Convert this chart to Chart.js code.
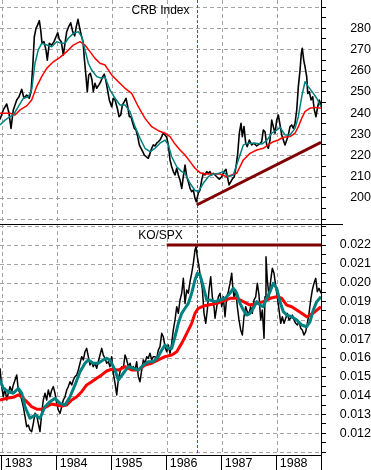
<!DOCTYPE html>
<html>
<head>
<meta charset="utf-8">
<script src="https://cdn.jsdelivr.net/npm/chart.js@4.4.0/dist/chart.umd.min.js"></script>
<style>
  html, body { margin: 0; padding: 0; background: #fff; }
  canvas { display: block; }
</style>
</head>
<body>
<canvas id="chart" width="371" height="470"></canvas>
<script>
const years = [1983, 1984, 1985, 1986, 1987, 1988];
const xRange = [1982.969, 1988.805];
const markYear = 1986.545;

// CRB Index: weekly close, short average, long average
const crbClose = [[1982.969,237],[1983.029,241.5],[1983.091,244.3],[1983.133,239.9],[1983.169,232.8],[1983.211,241.5],[1983.273,246.2],[1983.314,247.7],[1983.364,251.2],[1983.405,247],[1983.454,248.5],[1983.502,247],[1983.533,250.1],[1983.564,261.9],[1983.593,276],[1983.624,280],[1983.654,281.6],[1983.684,283.6],[1983.709,279.2],[1983.733,272.9],[1983.769,273.7],[1983.805,269.8],[1983.829,265],[1983.865,272.9],[1983.909,272.1],[1983.951,273.7],[1983.987,276],[1984.018,277.9],[1984.047,274.8],[1984.084,273.7],[1984.120,267.4],[1984.151,272.9],[1984.182,278.4],[1984.218,280.8],[1984.254,282.6],[1984.291,278.4],[1984.327,276.4],[1984.356,280.8],[1984.387,284.2],[1984.418,280],[1984.447,276.8],[1984.478,273.7],[1984.502,265.8],[1984.527,258.8],[1984.556,250.1],[1984.582,258],[1984.611,258.8],[1984.642,255.6],[1984.665,250.1],[1984.696,254.1],[1984.727,251.7],[1984.764,253.2],[1984.800,254.8],[1984.836,257.2],[1984.865,258.4],[1984.896,255],[1984.927,250.5],[1984.956,246.2],[1984.999,243],[1985.029,247],[1985.060,246.2],[1985.102,242.3],[1985.133,238.3],[1985.164,239.1],[1985.193,243.8],[1985.229,245.4],[1985.260,247],[1985.291,243],[1985.320,238.3],[1985.351,238.3],[1985.382,235.2],[1985.411,232.8],[1985.442,232],[1985.473,228.9],[1985.502,225],[1985.533,223.4],[1985.564,221.8],[1985.593,220.2],[1985.629,219.4],[1985.665,218.7],[1985.696,221],[1985.727,223.4],[1985.756,225],[1985.787,224.5],[1985.818,225.8],[1985.847,226.5],[1985.878,227.3],[1985.909,228.9],[1985.938,230.5],[1985.969,229.7],[1986.000,228.6],[1986.029,225],[1986.060,217.9],[1986.091,214.7],[1986.120,212.4],[1986.151,210.8],[1986.182,214],[1986.211,210.8],[1986.242,208.4],[1986.273,204.5],[1986.302,210],[1986.333,215.5],[1986.364,210],[1986.393,207.6],[1986.424,204.5],[1986.454,202.9],[1986.484,203.7],[1986.514,199.8],[1986.538,198.2],[1986.574,202.2],[1986.605,203.7],[1986.636,208.4],[1986.665,211.6],[1986.696,210.8],[1986.727,212.4],[1986.756,211.6],[1986.787,212.4],[1986.818,210.8],[1986.847,211.6],[1986.909,210],[1986.956,208.8],[1987.000,210],[1987.042,212.4],[1987.078,213.5],[1987.102,210],[1987.133,206.1],[1987.164,207.6],[1987.200,209.2],[1987.229,210],[1987.260,214.7],[1987.291,221],[1987.320,230.5],[1987.351,235.2],[1987.375,228.9],[1987.405,233.6],[1987.436,225.8],[1987.465,224.2],[1987.502,227.3],[1987.545,225],[1987.587,225.8],[1987.636,224.5],[1987.684,225.4],[1987.727,226.5],[1987.756,232],[1987.787,231.2],[1987.818,225],[1987.847,223.4],[1987.878,227.3],[1987.909,236.7],[1987.938,233.6],[1987.969,230.5],[1988.000,236.7],[1988.029,239.1],[1988.060,234.4],[1988.091,229.7],[1988.120,227.3],[1988.151,225],[1988.182,227.3],[1988.211,229.7],[1988.242,233.6],[1988.273,234.4],[1988.302,232.8],[1988.333,235.2],[1988.364,241.5],[1988.393,252.5],[1988.424,260.3],[1988.447,268.2],[1988.465,270.6],[1988.491,265],[1988.514,261.9],[1988.545,257.2],[1988.564,249.3],[1988.593,250.1],[1988.624,246.2],[1988.654,247.7],[1988.684,241.5],[1988.714,238.3],[1988.745,243],[1988.774,246.2],[1988.805,243.8]];
const crbShort = [[1982.969,234.4],[1983.060,236.7],[1983.151,238.3],[1983.211,239.1],[1983.302,243],[1983.393,247],[1983.484,247.7],[1983.545,250.9],[1983.605,263.5],[1983.665,269.8],[1983.727,272.9],[1983.818,272.1],[1983.909,271.3],[1984.000,273.7],[1984.091,272.9],[1984.151,272.9],[1984.211,275.3],[1984.302,277.6],[1984.393,278.4],[1984.454,276],[1984.514,269.8],[1984.575,263.5],[1984.636,260.3],[1984.727,257.2],[1984.818,256.4],[1984.878,257],[1984.969,250.9],[1985.060,247],[1985.151,243.8],[1985.242,243.8],[1985.333,240.7],[1985.424,233.6],[1985.515,228.1],[1985.605,223.4],[1985.696,221.8],[1985.787,223.4],[1985.878,225.8],[1985.969,227.3],[1986.029,225],[1986.091,219.4],[1986.182,214.7],[1986.273,212.4],[1986.333,211.6],[1986.424,206.9],[1986.514,203.5],[1986.574,203],[1986.665,206.9],[1986.756,210],[1986.847,211.3],[1986.909,211.3],[1987.029,212.4],[1987.120,210],[1987.211,210.8],[1987.302,217.9],[1987.393,225],[1987.484,225.8],[1987.605,225.8],[1987.727,225.4],[1987.818,227],[1987.909,230.5],[1988.000,232],[1988.060,233.3],[1988.151,229.7],[1988.242,229.7],[1988.333,232.8],[1988.393,238.3],[1988.454,247.7],[1988.514,254.8],[1988.575,252.5],[1988.665,249.3],[1988.727,247],[1988.805,243]];
const crbLong = [[1982.969,239.9],[1983.151,239.9],[1983.242,239.1],[1983.333,241.5],[1983.454,243.4],[1983.545,246.2],[1983.636,252.5],[1983.727,257.2],[1983.818,261.1],[1983.938,264.2],[1984.060,266.3],[1984.182,269],[1984.302,272.1],[1984.424,273.7],[1984.514,272.1],[1984.605,269],[1984.696,265.8],[1984.787,263.5],[1984.878,262.7],[1984.999,258],[1985.120,254.8],[1985.242,251.7],[1985.363,249.3],[1985.484,243],[1985.605,237.5],[1985.727,233.6],[1985.847,231.7],[1985.969,230.5],[1986.060,228.9],[1986.151,225.4],[1986.242,222.6],[1986.333,220.2],[1986.424,217.1],[1986.514,214],[1986.605,211.9],[1986.696,211.3],[1986.787,211.3],[1986.969,211.3],[1987.091,210],[1987.272,211.6],[1987.393,217.9],[1987.514,221],[1987.636,222.6],[1987.756,223.4],[1987.847,225],[1987.938,226.5],[1988.029,227.3],[1988.120,228.6],[1988.242,228.9],[1988.333,230.5],[1988.393,233.6],[1988.454,237.5],[1988.514,240.7],[1988.605,242.3],[1988.696,242.7],[1988.805,242.3]];
const crbTrend = [[1986.545,196.65],[1988.805,226.2]];

// KO/SPX ratio: weekly close, short average, long average
const koClose = [[1982.969,0.01545],[1983.000,0.01448],[1983.029,0.01394],[1983.060,0.01439],[1983.091,0.01377],[1983.120,0.01413],[1983.151,0.01448],[1983.182,0.01421],[1983.211,0.01457],[1983.242,0.01483],[1983.273,0.0151],[1983.302,0.0143],[1983.333,0.01413],[1983.364,0.01377],[1983.393,0.01341],[1983.424,0.01288],[1983.454,0.01235],[1983.484,0.01244],[1983.514,0.01218],[1983.545,0.01209],[1983.575,0.01253],[1983.605,0.01306],[1983.636,0.01297],[1983.665,0.01253],[1983.696,0.01209],[1983.727,0.01306],[1983.756,0.01377],[1983.787,0.01413],[1983.818,0.01377],[1983.847,0.0143],[1983.878,0.01394],[1983.909,0.0143],[1983.938,0.01448],[1983.969,0.01413],[1984.000,0.01359],[1984.029,0.01324],[1984.060,0.01306],[1984.091,0.01341],[1984.120,0.01377],[1984.151,0.01394],[1984.182,0.0143],[1984.211,0.01448],[1984.242,0.01474],[1984.273,0.01457],[1984.302,0.01483],[1984.333,0.01501],[1984.364,0.0151],[1984.393,0.01536],[1984.424,0.01572],[1984.454,0.01607],[1984.484,0.0159],[1984.514,0.01633],[1984.545,0.01651],[1984.575,0.01607],[1984.605,0.01563],[1984.636,0.0158],[1984.665,0.01554],[1984.696,0.01572],[1984.727,0.01545],[1984.756,0.0158],[1984.787,0.01616],[1984.818,0.01651],[1984.847,0.01616],[1984.878,0.01598],[1984.909,0.01572],[1984.938,0.0158],[1984.969,0.01554],[1984.999,0.01607],[1985.029,0.01519],[1985.060,0.01466],[1985.091,0.01404],[1985.120,0.01483],[1985.151,0.01527],[1985.182,0.01554],[1985.211,0.01545],[1985.242,0.01616],[1985.273,0.0159],[1985.302,0.01554],[1985.333,0.01572],[1985.364,0.01536],[1985.393,0.01554],[1985.424,0.01536],[1985.454,0.0158],[1985.484,0.01501],[1985.514,0.01474],[1985.545,0.01536],[1985.575,0.0159],[1985.605,0.01572],[1985.636,0.01607],[1985.665,0.01598],[1985.696,0.01625],[1985.727,0.0159],[1985.756,0.01607],[1985.787,0.01607],[1985.818,0.01598],[1985.847,0.01642],[1985.878,0.0166],[1985.909,0.01731],[1985.938,0.01713],[1985.969,0.0166],[1986.000,0.01633],[1986.029,0.01669],[1986.060,0.01625],[1986.091,0.01678],[1986.120,0.01749],[1986.151,0.01802],[1986.182,0.01872],[1986.211,0.01837],[1986.242,0.01908],[1986.273,0.01944],[1986.302,0.02023],[1986.333,0.0189],[1986.364,0.01961],[1986.393,0.01944],[1986.424,0.02005],[1986.454,0.0205],[1986.484,0.02103],[1986.514,0.02173],[1986.533,0.02191],[1986.556,0.02138],[1986.587,0.02085],[1986.618,0.02014],[1986.647,0.0197],[1986.678,0.01837],[1986.709,0.01784],[1986.738,0.01855],[1986.769,0.01961],[1986.800,0.02032],[1986.829,0.01925],[1986.860,0.01872],[1986.878,0.01811],[1986.909,0.01872],[1986.938,0.01925],[1986.969,0.01944],[1987.000,0.01872],[1987.029,0.01925],[1987.060,0.01819],[1987.091,0.01925],[1987.120,0.01952],[1987.151,0.01997],[1987.182,0.0205],[1987.200,0.01979],[1987.224,0.01925],[1987.254,0.01961],[1987.284,0.01872],[1987.314,0.01802],[1987.345,0.01749],[1987.375,0.01722],[1987.405,0.01819],[1987.436,0.01872],[1987.465,0.01846],[1987.496,0.01837],[1987.527,0.01872],[1987.556,0.01837],[1987.587,0.01908],[1987.618,0.01925],[1987.647,0.01997],[1987.678,0.01934],[1987.709,0.01802],[1987.738,0.01855],[1987.769,0.01705],[1987.787,0.01925],[1987.805,0.02138],[1987.829,0.02014],[1987.860,0.01925],[1987.891,0.02014],[1987.920,0.02076],[1987.951,0.0205],[1987.982,0.01979],[1988.011,0.01925],[1988.042,0.01855],[1988.073,0.01784],[1988.102,0.01819],[1988.133,0.01784],[1988.164,0.01811],[1988.193,0.01837],[1988.224,0.01802],[1988.254,0.01811],[1988.284,0.01828],[1988.314,0.01802],[1988.345,0.01784],[1988.375,0.01775],[1988.405,0.01793],[1988.436,0.01758],[1988.465,0.01749],[1988.496,0.01722],[1988.527,0.0174],[1988.556,0.01784],[1988.587,0.01837],[1988.618,0.01908],[1988.647,0.01961],[1988.678,0.01997],[1988.709,0.02023],[1988.738,0.01952],[1988.769,0.0197],[1988.805,0.01944]];
const koShort = [[1982.969,0.01483],[1983.029,0.01439],[1983.120,0.01421],[1983.211,0.01413],[1983.302,0.01439],[1983.364,0.01413],[1983.424,0.01341],[1983.514,0.0128],[1983.605,0.01297],[1983.696,0.0128],[1983.787,0.01341],[1983.878,0.01368],[1983.969,0.01386],[1984.060,0.01359],[1984.151,0.0135],[1984.242,0.01394],[1984.333,0.01457],[1984.424,0.01527],[1984.514,0.01572],[1984.575,0.0159],[1984.665,0.01572],[1984.756,0.01572],[1984.847,0.0159],[1984.909,0.01598],[1984.969,0.0159],[1985.060,0.01536],[1985.120,0.01483],[1985.211,0.01519],[1985.302,0.01554],[1985.393,0.01545],[1985.484,0.01536],[1985.575,0.01563],[1985.665,0.0158],[1985.756,0.0158],[1985.847,0.01607],[1985.909,0.01642],[1985.969,0.01669],[1986.029,0.01651],[1986.091,0.01651],[1986.151,0.01713],[1986.211,0.01784],[1986.273,0.01837],[1986.333,0.01864],[1986.393,0.0189],[1986.454,0.01944],[1986.514,0.02014],[1986.556,0.0205],[1986.605,0.02041],[1986.665,0.01979],[1986.727,0.01908],[1986.787,0.01908],[1986.878,0.01899],[1986.969,0.01908],[1987.060,0.01917],[1987.151,0.01944],[1987.211,0.0197],[1987.272,0.01944],[1987.333,0.0189],[1987.393,0.01855],[1987.454,0.01828],[1987.514,0.01837],[1987.575,0.01864],[1987.636,0.01899],[1987.696,0.01881],[1987.756,0.01872],[1987.818,0.01917],[1987.878,0.01952],[1987.938,0.01997],[1988.000,0.0197],[1988.060,0.01899],[1988.120,0.01846],[1988.182,0.01828],[1988.273,0.01819],[1988.364,0.01802],[1988.454,0.01775],[1988.545,0.01766],[1988.605,0.01793],[1988.665,0.01855],[1988.727,0.01899],[1988.805,0.01925]];
const koLong = [[1982.969,0.01377],[1983.091,0.01386],[1983.211,0.01391],[1983.302,0.01404],[1983.364,0.01394],[1983.454,0.01368],[1983.545,0.01341],[1983.636,0.01328],[1983.727,0.01328],[1983.818,0.01341],[1983.909,0.01356],[1984.000,0.0135],[1984.091,0.01345],[1984.182,0.0135],[1984.273,0.01377],[1984.364,0.01394],[1984.454,0.01421],[1984.545,0.01457],[1984.636,0.01474],[1984.727,0.01492],[1984.818,0.0151],[1984.909,0.01531],[1984.999,0.0154],[1985.120,0.01536],[1985.242,0.01554],[1985.363,0.01536],[1985.484,0.01536],[1985.605,0.01563],[1985.727,0.01572],[1985.847,0.0159],[1985.969,0.01607],[1986.091,0.01616],[1986.182,0.01633],[1986.273,0.01678],[1986.364,0.01731],[1986.454,0.01784],[1986.514,0.01837],[1986.574,0.01864],[1986.665,0.01876],[1986.756,0.01881],[1986.847,0.01887],[1986.909,0.0189],[1987.029,0.01904],[1987.151,0.01917],[1987.272,0.01917],[1987.393,0.01899],[1987.514,0.01881],[1987.636,0.0189],[1987.756,0.01899],[1987.878,0.01917],[1988.000,0.01925],[1988.091,0.01917],[1988.182,0.01881],[1988.273,0.01872],[1988.364,0.01855],[1988.454,0.01837],[1988.545,0.01819],[1988.605,0.01828],[1988.696,0.01846],[1988.805,0.01872]];
const koLevel = [[1986.0,0.022],[1988.805,0.022]];

// axis ticks: all tick marks, the ones with gridlines, the labelled ones
const crbTicks = [190,195,200,205,210,215,220,225,230,235,240,245,250,255,260,265,270,275,280,285,290];
const crbGrid = [190,200,210,220,230,240,250,260,270,280,290];
const crbLabels = [200,210,220,230,240,250,260,270,280];
const koTicks = [0.011,0.0115,0.012,0.0125,0.013,0.0135,0.014,0.0145,0.015,0.0155,0.016,0.0165,0.017,0.0175,0.018,0.0185,0.019,0.0195,0.02,0.0205,0.021,0.0215,0.022,0.0225,0.023];
const koGrid = ['0.011','0.012','0.013','0.014','0.015','0.016','0.017','0.018','0.019','0.020','0.021','0.022','0.023'];
const koLabels = ['0.012','0.013','0.014','0.015','0.016','0.017','0.018','0.019','0.020','0.021','0.022'];

const gridGray = '#a4a4a4';
const fontFamily = "'Liberation Sans', Arial, sans-serif";
const pts = arr => arr.map(p => ({x: p[0], y: p[1]}));
const isKoGrid = v => Math.abs(v * 1000 - Math.round(v * 1000)) < 1e-6 && koGrid.includes(v.toFixed(3));

function line(data, axis, color, width, order) {
  return {
    data: pts(data), yAxisID: axis, borderColor: color, borderWidth: width,
    pointRadius: 0, fill: false, tension: 0, borderJoinStyle: 'round', order: order
  };
}

function sideAxis(min, max, ticks, label, weight, pad) {
  return {
    type: 'linear', position: 'right', stack: 'panels', stackWeight: weight,
    min: min, max: max,
    afterBuildTicks: s => { s.ticks = ticks.map(v => ({value: v})); },
    afterFit: s => { s.width = 50; s.paddingTop = 0; s.paddingBottom = 0; },
    ticks: {
      crossAlign: 'far', padding: pad, color: '#000', autoSkip: false,
      font: {family: fontFamily, size: 12.5},
      callback: v => label(v)
    },
    grid: {drawOnChartArea: false, tickColor: '#000', tickLength: 5, lineWidth: 1},
    border: {color: '#000'}
  };
}

// dashed grid lines at the scales' own tick positions
function dashedGrid(ctx, a, scale, isGrid, horizontal) {
  ctx.save();
  ctx.strokeStyle = gridGray;
  ctx.lineWidth = 1;
  ctx.setLineDash([4, 3]);
  ctx.beginPath();
  scale.ticks.forEach(t => {
    if (!isGrid(t.value)) return;
    const p = Math.round(scale.getPixelForValue(t.value)) + 0.5;
    if (horizontal) { ctx.moveTo(a.left, p); ctx.lineTo(a.right, p); }
    else { ctx.moveTo(p, a.top); ctx.lineTo(p, a.bottom); }
  });
  ctx.stroke();
  ctx.restore();
}

const extras = {
  id: 'extras',
  beforeDatasetsDraw(chart) {
    const {ctx, chartArea: a, scales: {x, crb, ko}} = chart;
    dashedGrid(ctx, a, x, v => years.includes(v), false);
    dashedGrid(ctx, a, crb, v => crbGrid.includes(v), true);
    dashedGrid(ctx, a, ko, isKoGrid, true);
    const px = Math.round(x.getPixelForValue(markYear)) + 0.5;
    ctx.save();
    ctx.strokeStyle = '#009000';
    ctx.lineWidth = 1;
    ctx.setLineDash([3, 2]);
    ctx.beginPath();
    ctx.moveTo(px, a.top);
    ctx.lineTo(px, a.bottom);
    ctx.stroke();
    ctx.restore();
  },
  afterDraw(chart) {
    const {ctx, chartArea: a, scales: {crb, ko}} = chart;
    ctx.save();
    ctx.strokeStyle = '#000';
    ctx.lineWidth = 1;
    ctx.beginPath();
    const sy = Math.round(crb.bottom) + 0.5;
    ctx.moveTo(a.left, sy);
    ctx.lineTo(a.right + 22, sy);
    const rx = Math.round(a.right) + 0.5;
    ctx.moveTo(rx, a.bottom);
    ctx.lineTo(rx, chart.height);
    ctx.stroke();
    ctx.fillStyle = '#000';
    ctx.font = '12px ' + fontFamily;
    ctx.textAlign = 'center';
    ctx.textBaseline = 'middle';
    const cx = (a.left + a.right) / 2;
    ctx.fillText('CRB Index', cx, crb.top + 11);
    ctx.fillText('KO/SPX', cx, ko.top + 12);
    ctx.restore();
  }
};

new Chart(document.getElementById('chart'), {
  type: 'line',
  data: {
    datasets: [
      line(crbTrend, 'crb', '#800000', 3, 0),
      line(koLevel, 'ko', '#800000', 3, 0),
      line(crbShort, 'crb', '#008080', 1.5, 1),
      line(crbLong, 'crb', '#ff0000', 1.5, 2),
      line(crbClose, 'crb', '#000000', 1.6, 3),
      line(koShort, 'ko', '#008080', 3, 1),
      line(koLong, 'ko', '#ff0000', 3, 2),
      line(koClose, 'ko', '#000000', 1.5, 3)
    ]
  },
  options: {
    responsive: false,
    devicePixelRatio: 1,
    animation: false,
    events: [],
    layout: {padding: 0},
    plugins: {legend: {display: false}, tooltip: {enabled: false}, title: {display: false}},
    scales: {
      x: {
        type: 'linear', position: 'bottom', min: xRange[0], max: xRange[1],
        afterBuildTicks: s => { s.ticks = years.map(v => ({value: v})); },
        afterFit: s => { s.height = 15; s.paddingLeft = 0; s.paddingRight = 0; },
        ticks: {
          align: 'start', labelOffset: 3, padding: -13.5, color: '#000',
          maxRotation: 0, autoSkip: false,
          font: {family: fontFamily, size: 12.5},
          callback: v => String(v)
        },
        grid: {drawOnChartArea: false, tickColor: '#000', tickLength: 15, lineWidth: 1},
        border: {color: '#000'}
      },
      crb: sideAxis(187.92, 293.35, crbTicks,
        v => crbLabels.includes(v) ? String(v) : '', 223.5, 20),
      ko: sideAxis(0.010848, 0.023142, koTicks,
        v => koLabels.includes(v.toFixed(3)) && isKoGrid(v) ? v.toFixed(3) : '', 231.5, 9.5)
    }
  },
  plugins: [extras]
});
</script>
</body>
</html>
